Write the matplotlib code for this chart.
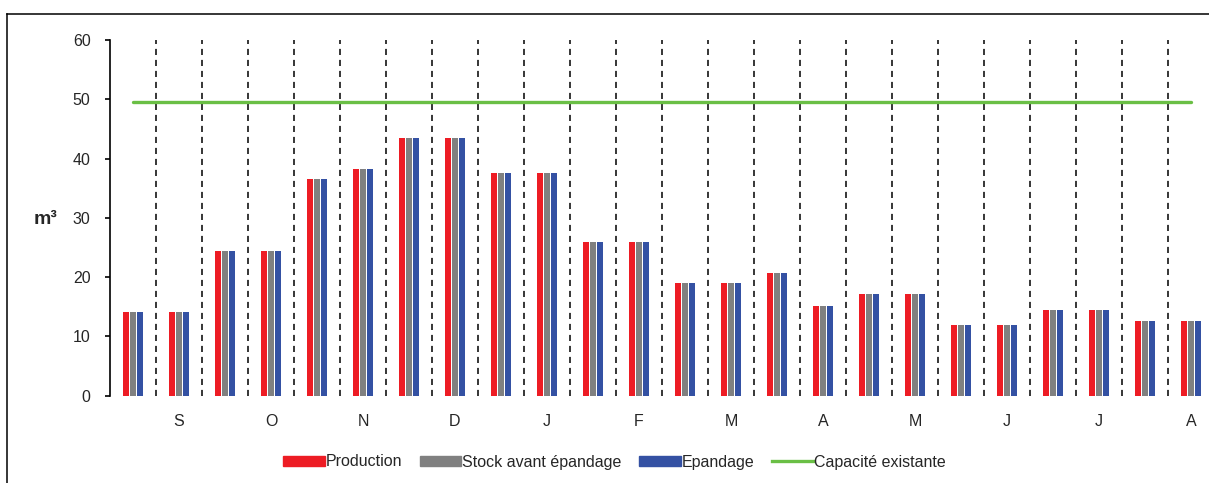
import matplotlib
matplotlib.use("Agg")
import matplotlib.pyplot as plt
import numpy as np
from matplotlib.lines import Line2D
from matplotlib.patches import Patch

plt.rcParams['font.family'] = ['Liberation Sans', 'DejaVu Sans']

# Data
month_labels = ["", "S", "", "O", "", "N", "", "D", "", "J", "", "F",
                "", "M", "", "A", "", "M", "", "J", "", "J", "", "A"]
production = [14.1, 14.1, 24.45, 24.45, 36.5, 38.2, 43.45, 43.45, 37.55, 37.55,
              25.95, 25.95, 19.0, 19.0, 20.7, 15.1, 17.15, 17.15, 11.9, 11.9,
              14.45, 14.45, 12.6, 12.6]
stock = list(production)
epandage = list(production)
capacite = [49.5] * len(production)

W, H = 1209, 483
fig = plt.figure(figsize=(W / 100, H / 100), dpi=100)

ax_left, ax_right = 110, 1214
ax_top, ax_bottom = 40, 395.7
ax = fig.add_axes([ax_left / W, (H - ax_bottom) / H,
                   (ax_right - ax_left) / W, (ax_bottom - ax_top) / H])

x = np.arange(len(production))
bw = 0.135
off = 0.158
c_red, c_gray, c_blue, c_green = '#ED1C24', '#808080', '#3451A3', '#6ABF45'
txt = '#262626'
fs = 11.5
ax.bar(x - off, production, bw, color=c_red, label='Production', zorder=3)
ax.bar(x, stock, bw, color=c_gray, label='Stock avant épandage', zorder=3)
ax.bar(x + off, epandage, bw, color=c_blue, label='Epandage', zorder=3)

for b in np.arange(0.5, len(production) - 0.5, 1.0):
    ax.plot([b, b], [0, 60], color='black', lw=1.1, dashes=(4, 3.2), zorder=2)

ax.plot(x, capacite, color=c_green, lw=2.4, solid_capstyle='round',
        label='Capacité existante', zorder=4)

ax.set_xlim(-0.5, len(production) - 0.5)
ax.set_ylim(0, 60)
ax.set_yticks(np.arange(0, 61, 10))
ax.set_xticks(x)
ax.set_xticklabels(month_labels)

for s in ['top', 'right', 'bottom']:
    ax.spines[s].set_visible(False)
ax.spines['left'].set_linewidth(1.2)
ax.spines['left'].set_color('black')
ax.tick_params(axis='y', length=3.5, width=1.2, pad=10.5, labelsize=fs, labelcolor=txt)
ax.tick_params(axis='x', length=0, pad=13.5, labelsize=fs, labelcolor=txt)

fig.text(45.5 / W, (H - 224.3) / H, 'm³', fontsize=14, fontweight='bold',
         ha='center', va='baseline', color=txt)

handles = [Patch(color=c_red), Patch(color=c_gray), Patch(color=c_blue),
           Line2D([], [], color=c_green, lw=2.4)]
labels = ['Production', 'Stock avant épandage', 'Epandage', 'Capacité existante']
fig.legend(handles, labels, loc='center', bbox_to_anchor=(614.5 / W, (H - 462) / H),
           ncol=4, frameon=False, fontsize=fs, handlelength=2.6,
           handleheight=0.58, handletextpad=0.05, columnspacing=1.1,
           labelcolor=txt, borderaxespad=0, borderpad=0)

# figure frame (left and top edges visible)
fig.add_artist(Line2D([7.3 / W, 7.3 / W], [0, (H - 13.7) / H], color='black',
                      lw=1.1, transform=fig.transFigure))
fig.add_artist(Line2D([7.3 / W, 1.0], [(H - 13.7) / H, (H - 13.7) / H], color='black',
                      lw=1.1, transform=fig.transFigure))

fig.savefig('out.png', dpi=100)
